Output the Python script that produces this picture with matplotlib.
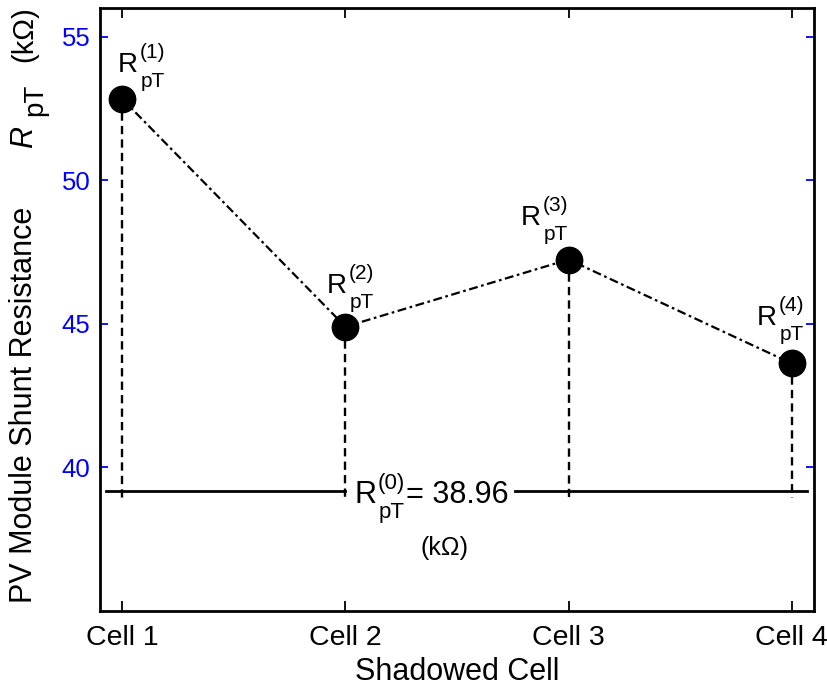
import matplotlib
matplotlib.use("Agg")
import matplotlib.pyplot as plt

plt.rcParams['font.family'] = ['Liberation Sans', 'DejaVu Sans']

# data
cells = [1, 2, 3, 4]
cell_labels = ['Cell 1', 'Cell 2', 'Cell 3', 'Cell 4']
r_pt = [52.83, 44.90, 47.24, 43.62]
point_tags = ['(1)', '(2)', '(3)', '(4)']
r0_label = '38.96'
r0_line = 39.17   # where the reference draws the baseline
yticks = [40, 45, 50, 55]

W, H = 828, 688
fig = plt.figure(figsize=(W / 100, H / 100), dpi=100)
ax = fig.add_axes([100 / W, 77 / H, 714 / W, 603 / H])


def rpt(x, y, dx, dy, tag, big=20, small=15, sup_dx=22):
    # R with stacked superscript tag and "pT" subscript, offsets in pixels
    kw = dict(xycoords='data', textcoords='offset pixels', ha='left',
              va='baseline', zorder=7)
    ax.annotate('R', (x, y), xytext=(dx, dy), fontsize=big, **kw)
    ax.annotate(tag, (x, y), xytext=(dx + sup_dx, dy + 14), fontsize=small, **kw)
    ax.annotate('pT', (x, y), xytext=(dx + sup_dx + 1, dy - 15), fontsize=small, **kw)


# vertical dashed drops to the baseline
for x, y in zip(cells, r_pt):
    ax.plot([x, x], [y, r0_line - 0.25], color='black', ls=(0, (3.5, 2.2)), lw=1.7)

# baseline, broken where the R(0) label sits
ax.plot([0.927, 2.0], [r0_line, r0_line], color='black', lw=2)
ax.plot([2.758, 4.07], [r0_line, r0_line], color='black', lw=2)

# main dash-dot curve with markers
ax.plot(cells, r_pt, color='black', lw=1.6, dashes=(4, 1.6, 1.2, 1.6),
        marker='o', ms=19, mfc='black', mec='black', zorder=5)

# point labels
offsets = [(-5, 27), (-19, 34), (-48, 35), (-35, 38)]
for (x, y), (dx, dy), tag in zip(zip(cells, r_pt), offsets, point_tags):
    rpt(x, y, dx, dy, tag)

# R(0) label on the baseline
rpt(2, r0_line, 9, -12, '(0)', big=22, small=16, sup_dx=23)
ax.annotate('= ' + r0_label, (2, r0_line), xytext=(61, -12),
            textcoords='offset pixels', ha='left', va='baseline', fontsize=22)
ax.text(2.442, 37.19, '(k\u03a9)', ha='center', va='center', fontsize=18)

ax.set_xlim(0.9, 4.1)
ax.set_ylim(35, 56)
ax.set_xticks(cells)
ax.set_xticklabels(cell_labels)
ax.set_yticks(yticks)

ax.tick_params(axis='x', direction='in', top=True, length=7, width=1.3,
               labelsize=20.5, pad=10)
ax.tick_params(axis='y', direction='in', right=True, length=6, width=1.3,
               colors='blue', labelsize=18.5, pad=7)
for s in ax.spines.values():
    s.set_linewidth(2)

ax.set_xlabel('Shadowed Cell', fontsize=22, labelpad=4.5)

# y label in pieces (rotated), pixel positions from the reference
def ytext(px, py, s, size, **kw):
    fig.text(px / W, 1 - py / H, s, rotation=90, rotation_mode='anchor',
             ha='left', va='baseline', fontsize=size, **kw)


ytext(32, 603, 'PV Module Shunt Resistance', 22)
ytext(32, 148, 'R', 22, style='italic')
ytext(42, 116, 'pT', 20)
ytext(32, 62, '(k\u03a9)', 21)

fig.savefig('out.png', dpi=100)
